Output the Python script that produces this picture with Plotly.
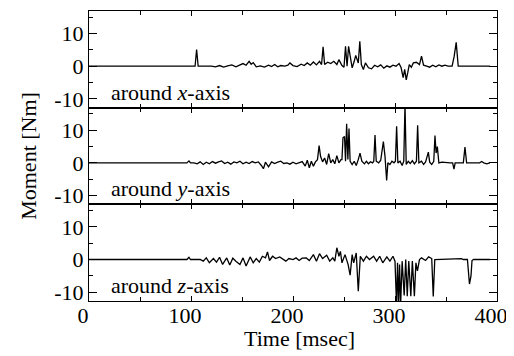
import plotly.graph_objects as go
from plotly.subplots import make_subplots

# ---- data (time in msec, moment in Nm) ----
x_time = [0, 104, 105.5, 107, 120, 124, 128, 132, 136, 140, 144, 148, 151, 154, 157, 159, 161, 164, 168, 172,
          176, 179, 182, 185, 188, 192, 195, 197, 200, 204, 208, 211, 214, 217, 220, 223, 226, 228, 229.5, 231,
          234, 237, 240, 243, 245, 248, 250, 251.5, 253, 254.5, 256, 258, 260, 261.5, 264, 265.5, 267, 269, 271,
          274, 277, 280, 283, 286, 289, 292, 295, 298, 301, 304, 306, 308, 309.5, 311, 312.5, 314, 316, 318, 321,
          324, 326, 328, 331, 334, 337, 340, 343, 346, 349, 352, 356, 358, 360, 362, 364, 393]
x_moment = [0, 0, 5.1, 0, 0, -0.2, 0.2, -0.3, 0.1, 0.4, -0.2, 0.5, 0.8, 0.3, 1.5, 0.6, 1.1, -0.2, 0.1, -0.3,
            0.3, -0.1, 0.5, -0.2, 0.2, 0.0, 0.3, 1.0, 0.2, -0.1, 0.6, 0.2, 1.0, 0.3, 1.3, 0.4, 1.5, 0.5, 5.9, 0.5,
            1.2, 0.8, 1.5, 0.5, 2.0, 0.2, -0.3, 6.1, 0.0, 6.1, 3.0, -0.5, 1.5, 3.3, 1.0, 7.6, 0.5, -1.0, 1.0,
            -0.5, -0.8, 0.3, -0.2, 0.4, -0.6, 0.1, -0.3, 0.3, 0.0, 0.8, -0.5, -3.5, -1.0, -4.2, -2.0, 0.5, -0.3, 1.0, 1.2,
            0.5, 3.1, 0.3, 0.0, -0.3, 0.3, -0.2, 0.4, 0.0, 0.3, 0.0, 0.0, 3.0, 7.3, 0.0, 0.0, 0.0]

y_time = [0, 96, 98, 99.5, 103, 106, 109, 112, 115, 118, 121, 124, 127, 130, 133, 136, 139, 142, 145, 148,
          151, 154, 157, 160, 163, 166, 169, 171, 173, 176, 179, 182, 185, 188, 191, 194, 197, 200, 203, 206,
          209, 212, 214, 216, 218, 220, 222, 224, 225.6, 227, 229, 231, 233, 235, 237, 239, 241, 243, 245, 247,
          248, 249, 250.5, 251.5, 252.6, 253.8, 254.9, 256, 258, 260, 262, 264, 265.7, 267.5, 270, 272, 274, 276,
          278, 279.2, 280.4, 281.6, 284, 286, 288.6, 290.2, 291.8, 293, 295, 297, 299, 300.4, 301.6, 302.8, 305,
          307, 308.6, 309.8, 311, 313, 315, 317, 319, 321, 322.2, 323.4, 326, 328, 330, 332.7, 334, 336, 338,
          339.2, 340.3, 341.5, 343, 346, 350, 354, 356.5, 357.8, 359, 367, 368.6, 370.2, 383, 385, 387, 390, 393]
y_moment = [0, 0, 0.6, 0, 0, -0.3, 0.3, -0.5, 0.2, -0.3, 0.4, -0.1, 0.3, 0.6, -0.2, 0.2, -0.4, 0.3, 0.0, 0.5,
            -0.3, 0.2, -0.2, 0.4, 0.0, 0.3, -0.8, -1.8, 0.2, -1.2, 0.3, -0.2, 0.2, 0.5, -0.2, 0.0, -0.4, 0.2, -0.3, 0.0,
            0.4, -1.0, 0.8, -1.5, 0.5, -1.0, 0.3, 1.0, 5.3, 2.0, 0.3, 1.5, -0.5, 2.8, 0.0, 1.0, -0.3, 2.2, 0.0, 1.0,
            1.0, 7.7, 8.1, 0.5, 12.0, 1.0, 10.5, 0.5, -0.5, 0.5, -0.8, 1.0, 3.0, 0.5, -0.3, 0.5, -0.3, 0.3,
            0.0, 0.5, 8.5, 0.5, 0.0, 0.8, 6.5, 2.0, -5.4, 0.0, -0.5, 0.5, 0.0, 0.5, 11.2, 0.0, 0.5,
            -0.8, 0.5, 18.0, -0.5, 0.5, -0.2, 0.7, -0.3, 0.5, 11.5, 0.0, 0.5, -0.5, 0.3, 3.3, 0.2, -0.5, 0.5,
            8.4, 3.0, 5.0, 0.0, 0.2, 0.0, 0.0, 0.0, -1.9, 0.0, 0.0, 4.8, 0.0, 0.0, 0.4, 0.0, -0.3, 0.0]

z_time = [0, 96, 98, 99.5, 106, 109, 112, 115, 118, 122, 125, 128, 131, 135, 138, 141, 144, 148, 151, 154,
          158, 161, 164, 167, 170, 173, 175, 177, 180, 183, 187, 190, 193, 196, 200, 203, 206, 209, 213, 216,
          220, 223, 226, 229, 233, 236, 239, 241, 243, 245, 246.5, 248, 251, 254, 256, 258, 259.5, 262, 264, 266,
          269, 272, 275, 279, 282, 285, 288, 292, 295, 298, 300, 301.5, 302.5, 303.5, 304.5, 305.5, 307, 309, 310.5,
          312, 313.5, 315.5, 317, 319, 320.5, 322, 324, 326, 330, 333, 336, 337.5, 339, 365, 367, 371, 372, 373,
          374.5, 375.5, 377, 393]
z_moment = [0, 0, 0.7, 0, 0, 0, -0.5, 0.5, -1.0, 0.3, -0.8, 0.7, -1.5, 0.5, -1.7, 0.4, -0.5, -1.5, 0.5, -2.0,
            0.8, -1.0, 0.3, -0.8, 1.0, 0.5, 2.3, -0.3, 1.0, 0.3, 0.8, 0.0, -0.5, 0.3, 0.0, 0.5, -0.3, 0.4, 0.5, -0.3,
            1.5, -0.5, 1.8, 0.3, 1.3, -0.5, 0.5, -0.5, 3.6, 1.0, 2.5, -1.0, 1.5, -1.5, -4.8, 1.5, -1.0, 2.0, -9.7, 1.0,
            -0.5, 1.0, 0.0, 1.0, -0.5, 1.0, -1.0, 0.8, -0.5, 1.0, -0.5, -14, -1.0, -14, -1.5, -14, -0.5, -11, 0.0,
            -11.2, -0.5, -11.2, -0.5, -11.2, -1.0, -3.5, 0.0, 0.5, -0.3, 0.8, 0.3, -11.3, 0.0, 0.3, 0.0, 0.0, -5.5, -7.5,
            -5.0, -0.3, 0.0, 0.0]

panel_labels = ["around <i>x</i>-axis", "around <i>y</i>-axis", "around <i>z</i>-axis"]
y_tickvals = [-10, 0, 10]
y_ticktext = ["-10", "0", "10"]
x_tickvals = [0, 100, 200, 300, 400]
x_ticktext = ["0", "100", "200", "300", "400"]

FONT = "'Liberation Serif', 'Times New Roman', Times, serif"
FS = 22

fig = make_subplots(rows=3, cols=1, shared_xaxes=True, vertical_spacing=0)
series = [(x_time, x_moment), (y_time, y_moment), (z_time, z_moment)]
for i, (t, v) in enumerate(series, start=1):
    fig.add_trace(go.Scatter(x=t, y=v, mode="lines", line=dict(color="black", width=1.3),
                             showlegend=False), row=i, col=1)
    fig.update_yaxes(range=[-12.7, 16.9], tickvals=y_tickvals, ticktext=y_ticktext,
                     ticks="inside", ticklen=8, tickwidth=1, tickcolor="black",
                     minor=dict(dtick=5, tick0=0, ticks="inside", ticklen=4, tickcolor="black"),
                     showline=True, linecolor="black", linewidth=1, mirror="ticks",
                     showgrid=False, zeroline=False, automargin=False,
                     tickfont=dict(family=FONT, size=FS, color="black"), row=i, col=1)
    fig.update_xaxes(range=[0, 400], tickvals=x_tickvals, ticktext=x_ticktext,
                     ticks="inside", ticklen=5, tickwidth=1, tickcolor="black",
                     minor=dict(dtick=50, tick0=0, ticks="inside", ticklen=4, tickcolor="black"),
                     showline=True, linecolor="black", linewidth=1, mirror="ticks",
                     showgrid=False, zeroline=False, automargin=False,
                     ticklabelshift=-6, ticklabelstandoff=-5,
                     tickfont=dict(family=FONT, size=FS, color="black"), row=i, col=1)
    yref = "y" if i == 1 else f"y{i}"
    xref = "x" if i == 1 else f"x{i}"
    fig.add_annotation(x=20, y=-8, xref=xref, yref=yref, text=panel_labels[i - 1],
                       showarrow=False, xanchor="left", yanchor="middle",
                       font=dict(family=FONT, size=FS, color="black"))

fig.add_annotation(x=0.517, y=-0.131, xref="paper", yref="paper", text="Time [msec]",
                   showarrow=False, xanchor="center", yanchor="middle",
                   font=dict(family=FONT, size=FS, color="black"))
fig.add_annotation(x=-0.15, y=0.5, xref="paper", yref="paper", text="Moment [Nm]", textangle=-90,
                   showarrow=False, xanchor="center", yanchor="middle",
                   font=dict(family=FONT, size=FS, color="black"))

# the page body adds an 8 px offset; the figure is sized to fit the 514x356 window
fig.update_layout(width=506, height=348, margin=dict(l=81, r=17, t=3, b=55, autoexpand=False),
                  paper_bgcolor="white", plot_bgcolor="white",
                  font=dict(family=FONT, size=FS, color="black"))
fig.write_html("out.html")
